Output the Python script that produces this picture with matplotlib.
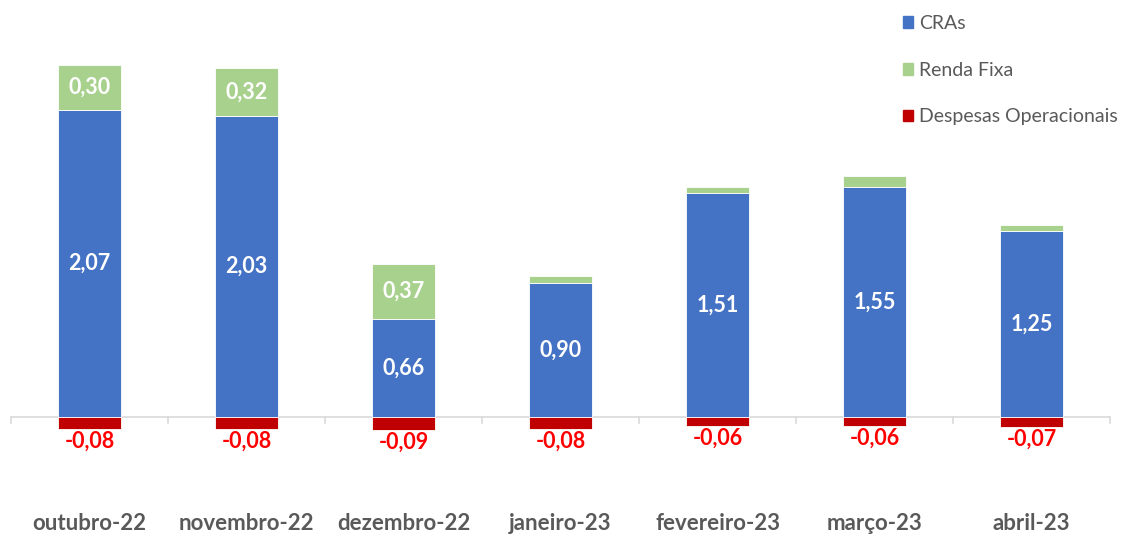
import matplotlib.pyplot as plt
import numpy as np
from matplotlib.patches import Patch

plt.rcParams['font.family'] = ['Lato', 'DejaVu Sans']

months = ["outubro-22", "novembro-22", "dezembro-22", "janeiro-23",
          "fevereiro-23", "março-23", "abril-23"]
cras = [2.07, 2.03, 0.66, 0.90, 1.51, 1.55, 1.25]
renda_fixa = [0.30, 0.32, 0.37, 0.05, 0.04, 0.07, 0.04]
despesas = [-0.08, -0.08, -0.09, -0.08, -0.06, -0.06, -0.07]

blue = "#4472C4"
green = "#A9D18E"
red = "#C00000"

fig = plt.figure(figsize=(11.21, 5.34), dpi=100)
ax = fig.add_axes([11 / 1121, 0, 1099 / 1121, 1])

x = np.arange(len(months))
w = 0.4
ax.bar(x, cras, w, color=blue, edgecolor="white", linewidth=0.6, label="CRAs", zorder=2)
ax.bar(x, renda_fixa, w, bottom=cras, color=green, edgecolor="white", linewidth=0.6,
       label="Renda Fixa", zorder=2)
ax.bar(x, despesas, w, color=red, edgecolor="white", linewidth=0.6,
       label="Despesas Operacionais", zorder=2)

# baseline 417px from top, ~148.5 px per unit
ppu = 148.5
ax.set_xlim(-0.5, len(months) - 0.5)
ax.set_ylim(-(534 - 417) / ppu, 417 / ppu)

ax.axhline(0, color="#D9D9D9", lw=1.2, zorder=1)
for b in np.arange(-0.5, len(months), 1.0):
    ax.plot([b, b], [0, -6 / ppu], color="#D9D9D9", lw=1.2, zorder=1, clip_on=False)

for i in range(len(months)):
    ax.text(x[i], cras[i] / 2, f"{cras[i]:.2f}".replace(".", ","), ha="center", va="center",
            color="white", fontsize=15.5, fontweight="bold", zorder=3)
    if renda_fixa[i] >= 0.2:
        ax.text(x[i], cras[i] + renda_fixa[i] / 2, f"{renda_fixa[i]:.2f}".replace(".", ","),
                ha="center", va="center", color="white", fontsize=15.5, fontweight="bold", zorder=3)
    ax.text(x[i], despesas[i] - 0.01, f"{despesas[i]:.2f}".replace(".", ","),
            ha="center", va="top", color="#FF0000", fontsize=15.5, fontweight="bold", zorder=3)
    ax.text(x[i], -(524 - 417) / ppu, months[i], ha="center", va="center",
            color="#595959", fontsize=16, fontweight="bold")

ax.axis("off")

handles = [Patch(color=blue), Patch(color=green), Patch(color=red)]
fig.legend(handles, ["CRAs", "Renda Fixa", "Despesas Operacionais"],
           loc="upper left", bbox_to_anchor=(895 / 1121, 1 - 7 / 534), frameon=False,
           handlelength=0.55, handleheight=0.55, handletextpad=0.3,
           labelspacing=1.53, fontsize=14, labelcolor="#595959",
           borderaxespad=0.0)

fig.savefig("out.png", dpi=100)
